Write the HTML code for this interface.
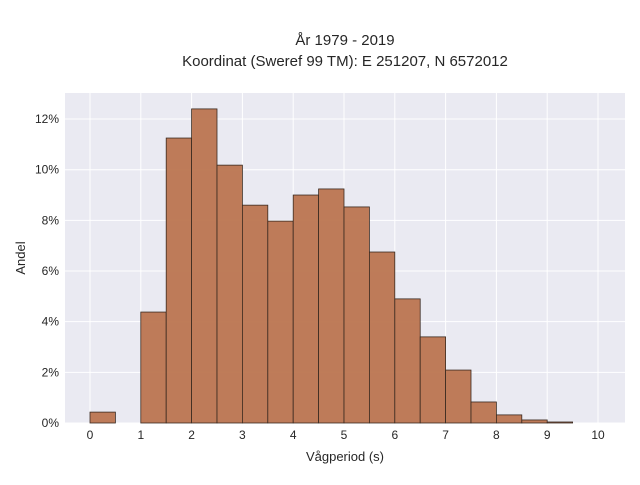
<!DOCTYPE html>
<html><head><meta charset="utf-8"><style>
body{margin:0;background:#fff;width:640px;height:480px;overflow:hidden;font-family:"Liberation Sans",sans-serif}
</style></head><body>
<svg id="chart" width="640" height="480" xmlns="http://www.w3.org/2000/svg" font-family="Liberation Sans, sans-serif">
<text x="345" y="45" text-anchor="middle" font-size="15" fill="#262626">År 1979 - 2019</text>
<text x="345" y="66" text-anchor="middle" font-size="15" fill="#262626">Koordinat (Sweref 99 TM): E 251207, N 6572012</text>
<rect x="65" y="93" width="560" height="330" fill="#eaeaf2"/>
<g id="grid"></g><g id="bars"></g><g id="ticks"></g>
<text x="345" y="461" text-anchor="middle" font-size="13" fill="#262626">Vågperiod (s)</text>
<text transform="translate(25,258) rotate(-90)" text-anchor="middle" font-size="13" fill="#262626">Andel</text>
</svg>
<script>
const binStarts=[0,0.5,1,1.5,2,2.5,3,3.5,4,4.5,5,5.5,6,6.5,7,7.5,8,8.5,9];
const shares=[0.43,0,4.38,11.25,12.4,10.18,8.6,7.97,9.0,9.24,8.53,6.75,4.9,3.4,2.09,0.83,0.32,0.12,0.04];
const xTicks=[0,1,2,3,4,5,6,7,8,9,10];
const yTicks=[0,2,4,6,8,10,12];
const binWidth=0.5;
const NS="http://www.w3.org/2000/svg";
const X=v=>90+v*50.8, Y=v=>423-v*25.33;
const g=document.getElementById('grid'),b=document.getElementById('bars'),t=document.getElementById('ticks');
function mk(tag,attrs,parent){const e=document.createElementNS(NS,tag);for(const k in attrs)e.setAttribute(k,attrs[k]);parent.appendChild(e);return e;}
xTicks.forEach(v=>{
 const l=mk('line',{x1:X(v),x2:X(v),y1:93,y2:423,stroke:'#fff','stroke-width':1},g);
 
 
 const tx=mk('text',{x:X(v),y:439,'text-anchor':'middle','font-size':12,fill:'#262626'},t);tx.textContent=v;
 
 
});
yTicks.forEach(v=>{
 const l=mk('line',{x1:65,x2:625,y1:Y(v),y2:Y(v),stroke:'#fff','stroke-width':1},g);
 
 
 const tx=mk('text',{x:59,y:Y(v)+4,'text-anchor':'end','font-size':12,fill:'#262626'},t);tx.textContent=v+'%';
 
 
});
binStarts.forEach((s,i)=>{
 if(shares[i]<=0)return;
 const r=mk('rect',{x:X(s),y:Y(shares[i]),width:X(s+binWidth)-X(s),height:Y(0)-Y(shares[i]),fill:'#bc7550','fill-opacity':0.95,stroke:'#3a2a20','stroke-width':0.8},b);
 
 
});
</script>
</body></html>
